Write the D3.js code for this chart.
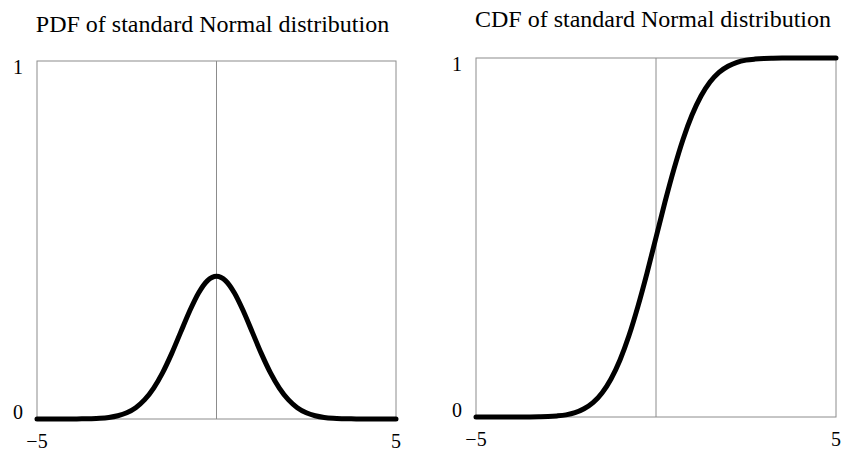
<!DOCTYPE html>
<html>
<head>
<meta charset="utf-8">
<script src="https://cdn.jsdelivr.net/npm/d3@7"></script>
<style>
  body { margin: 0; background: #fff; }
</style>
</head>
<body>
<div id="chart"></div>
<script>
// x positions the curves were read at
const xs = [-5, -4.75, -4.5, -4.25, -4, -3.75, -3.5, -3.25, -3, -2.75, -2.5, -2.25, -2, -1.75, -1.5, -1.25, -1, -0.75, -0.5, -0.25,
  0, 0.25, 0.5, 0.75, 1, 1.25, 1.5, 1.75, 2, 2.25, 2.5, 2.75, 3, 3.25, 3.5, 3.75, 4, 4.25, 4.5, 4.75, 5];
// PDF values
const pdfValues = [0, 0, 0, 0, 0.0001, 0.0004, 0.0009, 0.002, 0.0044, 0.0091, 0.0175, 0.0317, 0.054, 0.0863, 0.1295, 0.1826, 0.242, 0.3011, 0.3521, 0.3867,
  0.3989, 0.3867, 0.3521, 0.3011, 0.242, 0.1826, 0.1295, 0.0863, 0.054, 0.0317, 0.0175, 0.0091, 0.0044, 0.002, 0.0009, 0.0004, 0.0001, 0, 0, 0, 0];
// CDF values
const cdfValues = [0, 0, 0, 0, 0, 0.0001, 0.0002, 0.0006, 0.0013, 0.003, 0.006, 0.012, 0.023, 0.04, 0.067, 0.106, 0.159, 0.227, 0.309, 0.401,
  0.5, 0.599, 0.691, 0.773, 0.841, 0.894, 0.933, 0.96, 0.977, 0.988, 0.994, 0.997, 0.9987, 0.9994, 0.9998, 0.9999, 1, 1, 1, 1, 1];
const xTickLabels = ['\u22125', '5'];
const yTickLabels = ['0', '1'];
const titles = ['PDF of standard Normal distribution', 'CDF of standard Normal distribution'];

const width = 841, height = 452;
const font = '"Liberation Serif", "DejaVu Serif", serif';
const svg = d3.select('#chart').append('svg')
  .attr('width', width)
  .attr('height', height);

const panels = [
  { title: titles[0], values: pdfValues, left: 37, right: 396, top: 61, bottom: 419, titleX: 212.5, titleY: 32 },
  { title: titles[1], values: cdfValues, left: 476, right: 836, top: 58, bottom: 417, titleX: 653, titleY: 27 }
];

panels.forEach(p => {
  const x = d3.scaleLinear().domain([-5, 5]).range([p.left, p.right]);
  const y = d3.scaleLinear().domain([0, 1]).range([p.bottom, p.top]);
  const g = svg.append('g');

  // frame
  g.append('rect')
    .attr('x', x(-5)).attr('y', y(1))
    .attr('width', x(5) - x(-5)).attr('height', y(0) - y(1))
    .attr('fill', 'none').attr('stroke', '#8c8c8c').attr('stroke-width', 1);

  // vertical line at 0
  g.append('line')
    .attr('x1', x(0)).attr('x2', x(0))
    .attr('y1', y(0)).attr('y2', y(1))
    .attr('stroke', '#8c8c8c').attr('stroke-width', 1);

  // curve
  const line = d3.line()
    .x((d, i) => x(xs[i]))
    .y(d => y(d))
    .curve(d3.curveMonotoneX);
  g.append('path')
    .datum(p.values)
    .attr('d', line)
    .attr('fill', 'none')
    .attr('stroke', '#000')
    .attr('stroke-width', 5)
    .attr('stroke-linecap', 'round')
    .attr('stroke-linejoin', 'round');

  // title
  g.append('text')
    .attr('x', p.titleX).attr('y', p.titleY)
    .attr('text-anchor', 'middle')
    .attr('font-family', font)
    .attr('font-size', 24)
    .text(p.title);

  // x tick labels
  g.selectAll('.xt').data([-5, 5]).enter().append('text')
    .attr('x', d => x(d))
    .attr('y', p.bottom + 29)
    .attr('text-anchor', 'middle')
    .attr('font-family', font)
    .attr('font-size', 20)
    .text((d, i) => xTickLabels[i]);

  // y tick labels
  g.selectAll('.yt').data([0, 1]).enter().append('text')
    .attr('x', p.left - 19)
    .attr('y', d => d === 1 ? y(d) + 13 : y(d))
    .attr('text-anchor', 'middle')
    .attr('font-family', font)
    .attr('font-size', 20)
    .text((d, i) => yTickLabels[i]);
});
</script>
</body>
</html>
